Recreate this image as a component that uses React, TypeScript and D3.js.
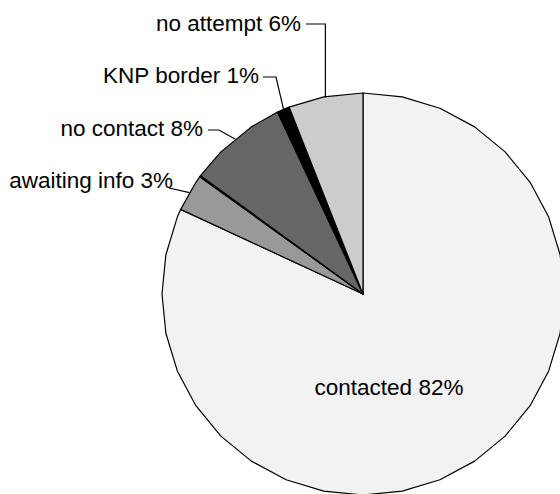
import React from "react";
import * as d3 from "d3";

// Slice order runs clockwise from twelve o'clock
const categories = ["contacted", "awaiting info", "", "no contact", "KNP border", "no attempt"];
const shares = [82, 3, 0.1, 8, 1, 6];
const fills = ["#f2f2f2", "#999999", "#000000", "#666666", "#000000", "#cccccc"];
const labelText = ["contacted 82%", "awaiting info 3%", "", "no contact 8%", "KNP border 1%", "no attempt 6%"];

const W = 560;
const H = 494;
const cx = 363;
const cy = 294;
const R = 201;
const STEP = (2 * Math.PI) / 32;

// polygonal wedge: outline vertices on a fixed angular grid plus the slice ends
function wedge(a0: number, a1: number): string {
  const pts: [number, number][] = [[cx, cy]];
  const angles = [a0];
  let k = Math.floor(a0 / STEP) + 1;
  while (k * STEP < a1 - 1e-6) {
    angles.push(k * STEP);
    k++;
  }
  angles.push(a1);
  for (const a of angles) pts.push([cx + R * Math.sin(a), cy - R * Math.cos(a)]);
  return (d3.line()(pts) as string) + "Z";
}

function polar(a: number, r: number): [number, number] {
  return [cx + r * Math.sin(a), cy - r * Math.cos(a)];
}

export default function App() {
  const pie = d3.pie<number>().sort(null).value((d) => d);
  const arcs = pie(shares);

  // leader lines: text end, elbow, then to the rim at the slice's mid angle
  const labelPos: Record<number, { tx: number; ty: number; path: [number, number][] }> = {};
  const mid = (i: number) => (arcs[i].startAngle + arcs[i].endAngle) / 2;
  {
    const rim = polar(mid(5), R);
    labelPos[5] = { tx: 301, ty: 31, path: [[306, 24], [rim[0], 24], [rim[0], rim[1] + 1]] };
  }
  {
    const rim = polar(mid(4), R - 2);
    labelPos[4] = { tx: 259, ty: 83, path: [[263, 77], [276, 77], rim] };
  }
  {
    const rim = polar(mid(3), R);
    labelPos[3] = { tx: 203, ty: 136, path: [[208, 130], [219, 130], rim] };
  }
  {
    const rim = polar(mid(1), R);
    labelPos[1] = { tx: 173, ty: 188, path: [[169, 188], rim] };
  }

  return (
    <svg width={W} height={H} style={{ display: "block", position: "absolute", left: 0, top: 0 }}>
      <rect width={W} height={H} fill="#ffffff" />
      <g>
        {arcs.map((d, i) => (
          <path
            key={i}
            d={wedge(d.startAngle, d.endAngle)}
            fill={fills[i]}
            stroke="#000"
            strokeWidth={1.2}
            strokeLinejoin="round"
          />
        ))}
      </g>
      <g fill="none" stroke="#000" strokeWidth={1.2}>
        {Object.entries(labelPos).map(([k, v]) => (
          <path key={k} d={d3.line()(v.path) as string} />
        ))}
      </g>
      <g fontFamily="'Liberation Sans', Arial, sans-serif" fontSize={22.5} fill="#000">
        {Object.entries(labelPos).map(([k, v]) => (
          <text key={k} x={v.tx} y={v.ty} textAnchor="end">
            {labelText[+k]}
          </text>
        ))}
        <text x={389} y={395} textAnchor="middle">
          {labelText[0]}
        </text>
      </g>
    </svg>
  );
}
